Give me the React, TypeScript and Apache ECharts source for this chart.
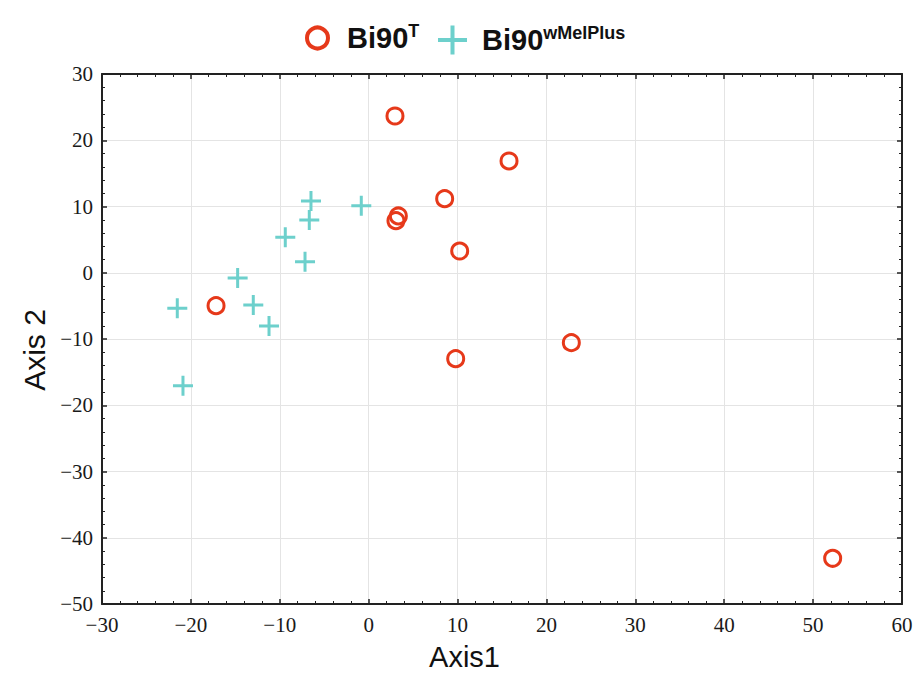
import React, { useEffect, useRef } from "react";
import * as echarts from "echarts";

const seriesNames = ["Bi90T", "Bi90wMelPlus"];
const legendSup = ["T", "wMelPlus"];

const bi90TX = [2.96, 15.79, 8.55, 3.34, 3.07, 10.24, 9.79, 22.8, -17.17, 52.2];
const bi90TY = [23.66, 16.87, 11.18, 8.57, 7.86, 3.28, -12.97, -10.55, -4.97, -43.1];

const bi90wX = [-6.49, -0.83, -6.68, -9.38, -7.16, -14.74, -21.53, -12.98, -11.21, -20.89];
const bi90wY = [10.83, 10.12, 7.96, 5.35, 1.67, -0.79, -5.37, -4.87, -8.04, -17.05];

const xTicks = [-30, -20, -10, 0, 10, 20, 30, 40, 50, 60];
const yTicks = [-50, -40, -30, -20, -10, 0, 10, 20, 30];

const RED = "#e6391a";
const CYAN = "#6dd0cc";
const AXIS = "#222";
const CROSS = "path://M8.5,0H11.5V8.5H20V11.5H11.5V20H8.5V11.5H0V8.5H8.5Z";
const CROSS_L = "path://M12.5,0H16.5V12.5H29V16.5H16.5V29H12.5V16.5H0V12.5H12.5Z";

const minus = (v: number) => String(v).replace("-", "\u2212");

const legendRich = {
  b: { fontSize: 29, fontWeight: "bold", fontFamily: "Liberation Sans", color: "#111", lineHeight: 32 },
  s: { fontSize: 18, fontWeight: "bold", fontFamily: "Liberation Sans", color: "#111", lineHeight: 15, verticalAlign: "top" },
};

function axisCommon(min: number, max: number, interval: number, showLabel: boolean, isX: boolean) {
  return {
    type: "value",
    min,
    max,
    interval,
    axisLine: { show: true, onZero: false, lineStyle: { color: AXIS, width: 2 } },
    axisTick: { show: true, inside: true, length: 5, lineStyle: { color: AXIS, width: 1.5 } },
    minorTick: { show: true, splitNumber: 5, length: 3, lineStyle: { color: AXIS, width: 1 } },
    splitLine: { show: showLabel, lineStyle: { color: "#e4e4e4", width: 1 } },
    axisLabel: {
      show: showLabel,
      formatter: minus,
      fontFamily: "Liberation Serif",
      fontSize: 21,
      color: "#1a1a1a",
      margin: isX ? 10 : 9,
    },
  };
}

export default function App() {
  const ref = useRef<HTMLDivElement>(null);
  useEffect(() => {
    if (!ref.current) return;
    const chart = echarts.init(ref.current, null, { renderer: "svg" });
    const xMin = xTicks[0], xMax = xTicks[xTicks.length - 1];
    const yMin = yTicks[0], yMax = yTicks[yTicks.length - 1];
    chart.setOption({
      animation: false,
      backgroundColor: "#ffffff",
      grid: { left: 102, right: 17, top: 74, bottom: 78 },
      legend: [
        {
          data: [{ name: seriesNames[0], icon: "circle", itemStyle: { color: "rgba(0,0,0,0)", borderColor: RED, borderWidth: 4, opacity: 1 } }],
          left: 305,
          top: 22,
          padding: 0,
          itemWidth: 21,
          itemHeight: 21,
          selectedMode: false,
          formatter: () => `{b|Bi90}{s|${legendSup[0]}}`,
          textStyle: { rich: legendRich, padding: [0, 0, 0, 14] },
        },
        {
          data: [{ name: seriesNames[1], icon: CROSS_L, itemStyle: { color: CYAN, borderWidth: 0, opacity: 1 } }],
          left: 438,
          top: 24,
          padding: 0,
          itemWidth: 29,
          itemHeight: 29,
          selectedMode: false,
          formatter: () => `{b|Bi90}{s|${legendSup[1]}}`,
          textStyle: { rich: legendRich, padding: [0, 0, 0, 10] },
        },
      ],
      xAxis: [
        {
          ...axisCommon(xMin, xMax, 10, true, true),
          position: "bottom",
          name: "Axis1",
          nameLocation: "middle",
          nameGap: 38,
          nameTextStyle: { fontFamily: "Liberation Sans", fontSize: 29, color: "#111", padding: [0, 75, 0, 0] },
        },
        { ...axisCommon(xMin, xMax, 10, false, true), position: "top" },
      ],
      yAxis: [
        {
          ...axisCommon(yMin, yMax, 10, true, false),
          position: "left",
          name: "Axis 2",
          nameLocation: "middle",
          nameGap: 49,
          nameTextStyle: { fontFamily: "Liberation Sans", fontSize: 30, color: "#111", padding: [0, 22, 0, 0] },
        },
        { ...axisCommon(yMin, yMax, 10, false, false), position: "right" },
      ],
      series: [
        {
          name: seriesNames[0],
          type: "scatter",
          symbol: "circle",
          symbolSize: 16,
          itemStyle: { color: "rgba(0,0,0,0)", borderColor: RED, borderWidth: 3, opacity: 1 },
          data: bi90TX.map((x, i) => [x, bi90TY[i]]),
        },
        {
          name: seriesNames[1],
          type: "scatter",
          symbol: CROSS,
          symbolSize: 20,
          itemStyle: { color: CYAN, opacity: 1 },
          data: bi90wX.map((x, i) => [x, bi90wY[i]]),
        },
      ],
    });
    return () => chart.dispose();
  }, []);
  return (
    <div
      ref={ref}
      style={{ position: "fixed", left: 0, top: 0, width: 919, height: 682 }}
    />
  );
}
